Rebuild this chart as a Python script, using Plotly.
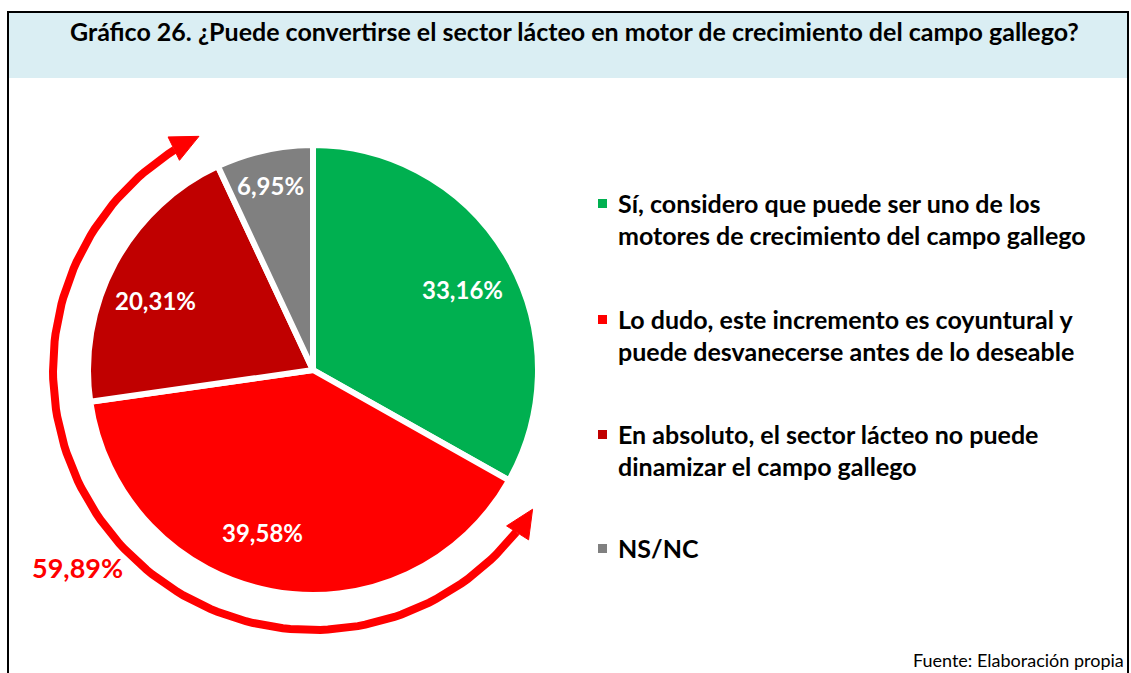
import math
import plotly.graph_objects as go

# ---- data ----
categories = [
    "Sí, considero que puede ser uno de los<br>motores de crecimiento del campo gallego",
    "Lo dudo, este incremento es coyuntural y<br>puede desvanecerse antes de lo deseable",
    "En absoluto, el sector lácteo no puede<br>dinamizar el campo gallego",
    "NS/NC",
]
values = [33.16, 39.58, 20.31, 6.95]
value_labels = ["33,16%", "39,58%", "20,31%", "6,95%"]
colors = ["#00B050", "#FF0000", "#C00000", "#808080"]
group_label = "59,89%"   # Lo dudo + En absoluto
title_text = "Gráfico 26. ¿Puede convertirse el sector lácteo en motor de crecimiento del campo gallego?"
source_text = "Fuente: Elaboración propia"

# ---- style ----
W, H = 1131, 673
FONT = "Lato"
cx, cy, R = 313, 370, 225
arc_r = 260
label_angle_nudge = [2.0, 6.6, -4.8, -0.3]
label_r_frac = [0.754, 0.758, 0.766, 0.843]

fig = go.Figure()

fig.add_trace(go.Pie(
    values=values,
    labels=[c.replace("<br>", " ") for c in categories],
    marker=dict(colors=colors, line=dict(color="white", width=6)),
    sort=False,
    direction="clockwise",
    rotation=0,
    textinfo="none",
    hoverinfo="label+percent",
    showlegend=False,
    domain=dict(x=[(cx - R) / W, (cx + R) / W], y=[1 - (cy + R) / H, 1 - (cy - R) / H]),
))

total = sum(values)

def pt(theta_deg, r):
    t = math.radians(theta_deg)
    return cx + r * math.sin(t), cy - r * math.cos(t)

# slice labels near mid-angle
cum = 0
for v, lab, nud, rf in zip(values, value_labels, label_angle_nudge, label_r_frac):
    mid = (cum + v / 2) / total * 360 + nud
    cum += v
    x, y = pt(mid, rf * R)
    fig.add_annotation(x=x, y=y, xref="x", yref="y", text=f"<b>{lab}</b>", showarrow=False,
                       font=dict(family=FONT, size=24, color="white"))

# arc arrow spanning the two "red" slices
start_deg = values[0] / total * 360 + 3
end_deg = (values[0] + values[1] + values[2]) / total * 360 - 1
head_len, head_w = 28, 26
d_head = math.degrees(head_len / arc_r)
n = 120
a0, a1 = start_deg + d_head, end_deg - d_head
xs, ys = [], []
for i in range(n + 1):
    th = a0 + (a1 - a0) * i / n
    x, y = pt(th, arc_r)
    xs.append(x); ys.append(y)
fig.add_trace(go.Scatter(x=xs, y=ys, mode="lines", line=dict(color="#FF0000", width=8),
                         hoverinfo="skip", showlegend=False))

def head(theta_tip, sign):
    tx, ty = pt(theta_tip, arc_r)
    t = math.radians(theta_tip)
    dx, dy = sign * math.cos(t), sign * math.sin(t)
    bx, by = tx - head_len * dx, ty - head_len * dy
    nx, ny = -dy, dx
    return ([tx, bx + nx * head_w / 2, bx - nx * head_w / 2, tx],
            [ty, by + ny * head_w / 2, by - ny * head_w / 2, ty])

for th, s in [(end_deg, 1), (start_deg, -1)]:
    hx, hy = head(th, s)
    fig.add_trace(go.Scatter(x=hx, y=hy, mode="lines", fill="toself", fillcolor="#FF0000",
                             line=dict(color="#FF0000", width=1), hoverinfo="skip", showlegend=False))

fig.add_annotation(x=77, y=567, xref="x", yref="y", text=f"<b>{group_label}</b>", showarrow=False,
                   font=dict(family=FONT, size=27, color="#FF0000"))

# legend
leg_y = [203, 319, 434, 548]
for cat, col, ly in zip(categories, colors, leg_y):
    fig.add_shape(type="rect", xref="x", yref="y", x0=598, x1=607, y0=ly - 4, y1=ly + 5,
                  fillcolor=col, line=dict(width=0))
    for k, line in enumerate(cat.split("<br>")):
        fig.add_annotation(x=616, y=ly + 32 * k, xref="x", yref="y", text=f"<b>{line}</b>",
                           showarrow=False, xanchor="left", yanchor="middle",
                           font=dict(family=FONT, size=25, color="#000000"))

# title band and frame
fig.add_shape(type="rect", xref="x", yref="y", x0=8, x1=1128, y0=12, y1=78,
              fillcolor="#DAEEF3", line=dict(width=0), layer="below")
fig.add_shape(type="line", xref="x", yref="y", x0=7, x1=1129, y0=12, y1=12, line=dict(color="black", width=2))
fig.add_shape(type="line", xref="x", yref="y", x0=8, x1=8, y0=12, y1=673, line=dict(color="black", width=2))
fig.add_shape(type="line", xref="x", yref="y", x0=1128, x1=1128, y0=12, y1=673, line=dict(color="black", width=2))

fig.add_annotation(x=574, y=31, xref="x", yref="y", text=f"<b>{title_text}</b>", showarrow=False,
                   font=dict(family=FONT, size=25, color="#000000"))
fig.add_annotation(x=1126, y=660, xref="x", yref="y", text=source_text, showarrow=False,
                   xanchor="right", yanchor="middle", font=dict(family=FONT, size=18, color="#000000"))

fig.update_layout(
    width=W, height=H,
    margin=dict(l=0, r=0, t=0, b=0),
    paper_bgcolor="white", plot_bgcolor="rgba(0,0,0,0)",
    xaxis=dict(range=[0, W], domain=[0, 1], visible=False, fixedrange=True),
    yaxis=dict(range=[H, 0], domain=[0, 1], visible=False, fixedrange=True),
    showlegend=False,
)

fig.write_html("out.html", config={"displayModeBar": False},
               post_script="document.body.style.margin='0';document.body.style.overflow='hidden';")
